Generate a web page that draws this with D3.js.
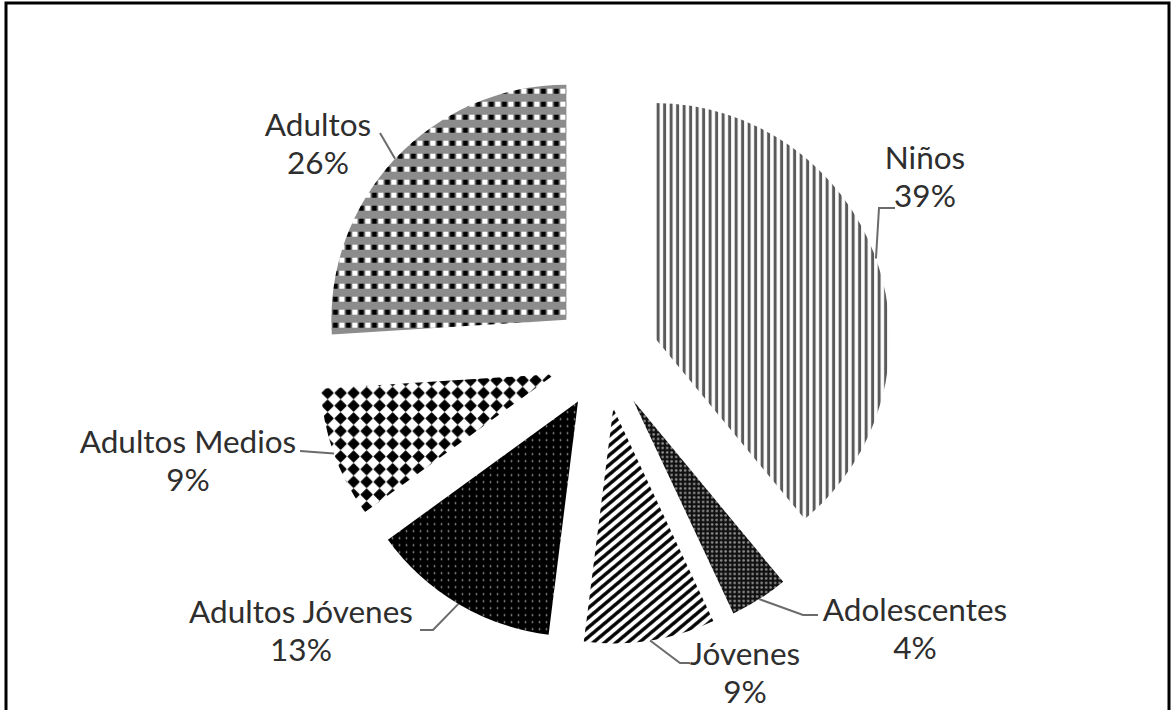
<!DOCTYPE html>
<html>
<head>
<meta charset="utf-8">
<script src="https://cdn.jsdelivr.net/npm/d3@7"></script>
<style>
  body { margin: 0; background: #fff; }
  text { font-family: Lato, "Open Sans", sans-serif; fill: #2e2e2e; }
</style>
</head>
<body>
<svg width="1172" height="710"></svg>
<script>
// datos del gráfico
const categories = ["Niños", "Adolescentes", "Jóvenes", "Adultos Jóvenes", "Adultos Medios", "Adultos"];
const values = [39, 4, 9, 13, 9, 26];
const patternIds = ["pNinos", "pAdol", "pJov", "pAdJov", "pAdMed", "pAdultos"];

// posición de las etiquetas (centro del texto) y codos de las líneas guía
const labelLayout = [
  { x: 925, y: 158, leader: [[879, 208], [895, 208]] },
  { x: 915, y: 610, leader: [[803, 615], [818, 615]] },
  { x: 745, y: 654, leader: [[680, 663], [690, 663]] },
  { x: 301, y: 612, leader: [[433, 630], [420, 630]] },
  { x: 188, y: 442, leader: [[300, 451]] },
  { x: 318, y: 125, leader: [[380, 133]] }
];

const svg = d3.select("svg");
const width = +svg.attr("width");
const height = +svg.attr("height");

const cx = 605, cy = 356;   // centro del pastel
const radius = 235;
const explode = 53;

// marco
svg.append("rect")
  .attr("x", 6).attr("y", 3)
  .attr("width", 1163).attr("height", height + 20)
  .attr("fill", "none").attr("stroke", "#000").attr("stroke-width", 3);

// tramas
const defs = svg.append("defs");

let p = defs.append("pattern").attr("id", "pNinos").attr("patternUnits", "userSpaceOnUse")
  .attr("width", 6.5).attr("height", 10);
p.append("rect").attr("width", 6.5).attr("height", 10).attr("fill", "#fff");
p.append("line").attr("x1", 3.25).attr("x2", 3.25).attr("y1", 0).attr("y2", 10)
  .attr("stroke", "#5a5a5a").attr("stroke-width", 3);

p = defs.append("pattern").attr("id", "pAdol").attr("patternUnits", "userSpaceOnUse")
  .attr("width", 4.5).attr("height", 4.5);
p.append("rect").attr("width", 4.5).attr("height", 4.5).attr("fill", "#111");
p.append("circle").attr("cx", 2.25).attr("cy", 2.25).attr("r", 1.3).attr("fill", "#8a8a8a");

p = defs.append("pattern").attr("id", "pJov").attr("patternUnits", "userSpaceOnUse")
  .attr("width", 20).attr("height", 7.4).attr("patternTransform", "rotate(-40)");
p.append("rect").attr("width", 20).attr("height", 7.4).attr("fill", "#fff");
p.append("line").attr("x1", 0).attr("x2", 20).attr("y1", 3.7).attr("y2", 3.7)
  .attr("stroke", "#000").attr("stroke-width", 3.4);

p = defs.append("pattern").attr("id", "pAdJov").attr("patternUnits", "userSpaceOnUse")
  .attr("width", 7).attr("height", 7);
p.append("rect").attr("width", 7).attr("height", 7).attr("fill", "#000");
p.append("circle").attr("cx", 3.5).attr("cy", 3.5).attr("r", 0.9).attr("fill", "#9a9a9a");

p = defs.append("pattern").attr("id", "pAdMed").attr("patternUnits", "userSpaceOnUse")
  .attr("width", 13).attr("height", 12.7);
p.append("rect").attr("width", 13).attr("height", 12.7).attr("fill", "#fff");
p.append("path").attr("d", "M6.5,1 L11.9,6.35 L6.5,11.7 L1.1,6.35 Z")
  .attr("fill", "#000").attr("stroke", "#000").attr("stroke-width", 1.2).attr("stroke-linejoin", "round");

p = defs.append("pattern").attr("id", "pAdultos").attr("patternUnits", "userSpaceOnUse")
  .attr("width", 13).attr("height", 13);
p.append("rect").attr("width", 13).attr("height", 13).attr("fill", "#8c8c8c");
p.append("rect").attr("x", 0.5).attr("y", 3).attr("width", 5).attr("height", 5).attr("fill", "#000");
p.append("rect").attr("x", 7).attr("y", 3).attr("width", 5).attr("height", 5).attr("fill", "#fff");

// pastel
const pie = d3.pie().sort(null).value(d => d);
const arcs = pie(values);
const arc = d3.arc().innerRadius(0).outerRadius(radius);

const mid = d => (d.startAngle + d.endAngle) / 2;
const offset = d => [explode * Math.sin(mid(d)), -explode * Math.cos(mid(d))];

const g = svg.append("g").attr("transform", `translate(${cx},${cy})`);

g.selectAll("path.slice")
  .data(arcs)
  .join("path")
  .attr("class", "slice")
  .attr("transform", d => `translate(${offset(d)})`)
  .attr("d", arc)
  .attr("fill", (d, i) => `url(#${patternIds[i]})`);

// líneas guía
const line = d3.line();
svg.append("g").selectAll("path")
  .data(arcs)
  .join("path")
  .attr("d", (d, i) => {
    const o = offset(d);
    const a = mid(d);
    const start = [cx + o[0] + radius * Math.sin(a), cy + o[1] - radius * Math.cos(a)];
    return line([start, ...labelLayout[i].leader]);
  })
  .attr("fill", "none")
  .attr("stroke", "#6b6b6b")
  .attr("stroke-width", 2);

// etiquetas
const fontSize = 31.5;
const lbl = svg.append("g").selectAll("text")
  .data(arcs)
  .join("text")
  .attr("text-anchor", "middle")
  .attr("font-size", fontSize)
  .attr("x", (d, i) => labelLayout[i].x)
  .attr("y", (d, i) => labelLayout[i].y);

lbl.append("tspan")
  .attr("x", (d, i) => labelLayout[i].x)
  .attr("dy", "0.35em")
  .text((d, i) => categories[i]);
lbl.append("tspan")
  .attr("x", (d, i) => labelLayout[i].x)
  .attr("dy", 38)
  .text(d => d.data + "%");
</script>
</body>
</html>
